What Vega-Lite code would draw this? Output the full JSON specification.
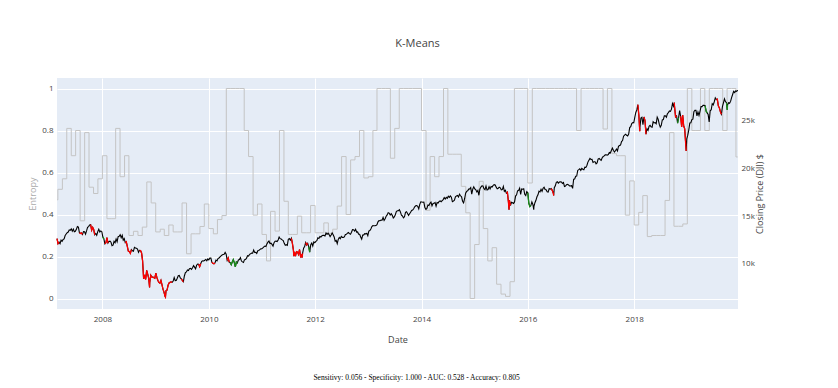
{
"$schema": "https://vega.github.io/schema/vega-lite/v6.json",
"background": "white",
"padding": {"left": 28, "top": 38, "right": 10, "bottom": 6},
"title": {"text": "Sensitivy: 0.056 - Specificity: 1.000 - AUC: 0.528 - Accuracy: 0.805", "orient": "bottom", "anchor": "middle", "font": "Liberation Serif", "fontSize": 7.5, "fontWeight": "normal", "color": "black", "offset": 30, "dx": 20},
"datasets": {
"ent": [
{"d":"2007-02-23","e":0.47},{"d":"2007-03-01","e":0.52},{"d":"2007-04-01","e":0.57},{"d":"2007-05-01","e":0.81},{"d":"2007-06-01","e":0.68},{"d":"2007-07-01","e":0.8},{"d":"2007-08-01","e":0.37},{"d":"2007-09-01","e":0.79},{"d":"2007-10-01","e":0.53},{"d":"2007-11-01","e":0.5},{"d":"2007-12-01","e":0.57},
{"d":"2008-01-01","e":0.68},{"d":"2008-02-01","e":0.38},{"d":"2008-03-01","e":0.38},{"d":"2008-04-01","e":0.81},{"d":"2008-05-01","e":0.58},{"d":"2008-06-01","e":0.68},{"d":"2008-07-01","e":0.3},{"d":"2008-08-01","e":0.32},{"d":"2008-09-01","e":0.3},{"d":"2008-10-01","e":0.34},{"d":"2008-11-01","e":0.555},{"d":"2008-12-01","e":0.455},
{"d":"2009-01-01","e":0.317},{"d":"2009-02-01","e":0.33},{"d":"2009-03-01","e":0.3},{"d":"2009-04-01","e":0.35},{"d":"2009-05-01","e":0.317},{"d":"2009-06-01","e":0.317},{"d":"2009-07-01","e":0.455},{"d":"2009-08-01","e":0.213},{"d":"2009-09-01","e":0.308},{"d":"2009-10-01","e":0.308},{"d":"2009-11-01","e":0.343},{"d":"2009-12-01","e":0.45},
{"d":"2010-01-01","e":0.333},{"d":"2010-02-01","e":0.308},{"d":"2010-03-01","e":0.376},{"d":"2010-04-01","e":0.395},{"d":"2010-05-01","e":1},{"d":"2010-06-01","e":1},{"d":"2010-07-01","e":1},{"d":"2010-08-01","e":1},{"d":"2010-09-01","e":0.8},{"d":"2010-10-01","e":0.676},{"d":"2010-11-01","e":0.397},{"d":"2010-12-01","e":0.45},
{"d":"2011-01-01","e":0.305},{"d":"2011-02-01","e":0.179},{"d":"2011-03-01","e":0.415},{"d":"2011-04-01","e":0.321},{"d":"2011-05-01","e":0.8},{"d":"2011-06-01","e":0.463},{"d":"2011-07-01","e":0.305},{"d":"2011-08-01","e":0.305},{"d":"2011-09-01","e":0.392},{"d":"2011-10-01","e":0.313},{"d":"2011-11-01","e":0.313},{"d":"2011-12-01","e":0.443},
{"d":"2012-01-01","e":0.313},{"d":"2012-02-01","e":0.313},{"d":"2012-03-01","e":0.36},{"d":"2012-04-01","e":0.31},{"d":"2012-05-01","e":0.33},{"d":"2012-06-01","e":0.44},{"d":"2012-07-01","e":0.676},{"d":"2012-08-01","e":0.4},{"d":"2012-09-01","e":0.66},{"d":"2012-10-01","e":0.676},{"d":"2012-11-01","e":0.8},{"d":"2012-12-01","e":0.574},
{"d":"2013-01-01","e":0.58},{"d":"2013-02-01","e":0.8},{"d":"2013-03-01","e":1},{"d":"2013-04-01","e":1},{"d":"2013-05-01","e":1},{"d":"2013-06-01","e":0.668},{"d":"2013-07-01","e":0.81},{"d":"2013-08-01","e":1},{"d":"2013-09-01","e":1},{"d":"2013-10-01","e":1},{"d":"2013-11-01","e":1},{"d":"2013-12-01","e":1},
{"d":"2014-01-01","e":0.8},{"d":"2014-02-01","e":0.42},{"d":"2014-03-01","e":0.676},{"d":"2014-04-01","e":0.58},{"d":"2014-05-01","e":0.676},{"d":"2014-06-01","e":1},{"d":"2014-07-01","e":0.687},{"d":"2014-08-01","e":0.687},{"d":"2014-09-01","e":0.687},{"d":"2014-10-01","e":0.534},{"d":"2014-11-01","e":0.408},{"d":"2014-12-01","e":0},
{"d":"2015-01-01","e":0.257},{"d":"2015-02-01","e":0.558},{"d":"2015-03-01","e":0.333},{"d":"2015-04-01","e":0.179},{"d":"2015-05-01","e":0.242},{"d":"2015-06-01","e":0.068},{"d":"2015-07-01","e":0.021},{"d":"2015-08-01","e":0.01},{"d":"2015-09-01","e":0.08},{"d":"2015-10-01","e":1},{"d":"2015-11-01","e":1},{"d":"2015-12-01","e":1},
{"d":"2016-01-01","e":0.55},{"d":"2016-02-01","e":1},{"d":"2016-03-01","e":1},{"d":"2016-04-01","e":1},{"d":"2016-05-01","e":1},{"d":"2016-06-01","e":1},{"d":"2016-07-01","e":1},{"d":"2016-08-01","e":1},{"d":"2016-09-01","e":1},{"d":"2016-10-01","e":1},{"d":"2016-11-01","e":1},{"d":"2016-12-01","e":0.8},
{"d":"2017-01-01","e":1},{"d":"2017-02-01","e":1},{"d":"2017-03-01","e":1},{"d":"2017-04-01","e":1},{"d":"2017-05-01","e":1},{"d":"2017-06-01","e":0.807},{"d":"2017-07-01","e":1},{"d":"2017-08-01","e":0.69},{"d":"2017-09-01","e":0.68},{"d":"2017-10-01","e":0.68},{"d":"2017-11-01","e":0.397},{"d":"2017-12-01","e":0.56},
{"d":"2018-01-01","e":0.35},{"d":"2018-02-01","e":0.41},{"d":"2018-03-01","e":0.49},{"d":"2018-04-01","e":0.295},{"d":"2018-05-01","e":0.3},{"d":"2018-06-01","e":0.3},{"d":"2018-07-01","e":0.3},{"d":"2018-08-01","e":0.467},{"d":"2018-09-01","e":0.79},{"d":"2018-10-01","e":0.344},{"d":"2018-11-01","e":0.344},{"d":"2018-12-01","e":0.355},
{"d":"2019-01-01","e":1},{"d":"2019-02-01","e":0.8},{"d":"2019-03-01","e":0.8},{"d":"2019-04-01","e":1},{"d":"2019-05-01","e":0.8},{"d":"2019-06-01","e":1},{"d":"2019-07-01","e":1},{"d":"2019-08-01","e":1},{"d":"2019-09-01","e":0.8},{"d":"2019-10-01","e":1},{"d":"2019-11-01","e":1},{"d":"2019-12-01","e":0.674},{"d":"2019-12-13","e":0.674}
],
"px": [
{"d":"2007-02-23","p":12647,"c":"r","s":1},{"d":"2007-03-02","p":12114,"c":"r","s":1},{"d":"2007-03-09","p":12276,"c":"r","s":1},{"d":"2007-03-16","p":12110,"c":"k"},{"d":"2007-03-23","p":12481,"c":"k"},{"d":"2007-03-30","p":12354,"c":"k"},{"d":"2007-04-06","p":12560,"c":"k"},{"d":"2007-04-13","p":12612,"c":"k"},{"d":"2007-04-20","p":12962,"c":"k"},{"d":"2007-04-27","p":13121,"c":"k"},{"d":"2007-05-04","p":13265,"c":"k"},{"d":"2007-05-11","p":13327,"c":"k"},{"d":"2007-05-18","p":13556,"c":"k"},{"d":"2007-05-25","p":13507,"c":"k"},{"d":"2007-06-01","p":13668,"c":"k"},{"d":"2007-06-08","p":13424,"c":"k"},{"d":"2007-06-15","p":13640,"c":"k"},{"d":"2007-06-22","p":13361,"c":"k"},{"d":"2007-06-29","p":13409,"c":"k"},{"d":"2007-07-06","p":13612,"c":"k"},{"d":"2007-07-13","p":13908,"c":"k"},{"d":"2007-07-20","p":13851,"c":"k"},{"d":"2007-07-27","p":13266,"c":"r","s":2},{"d":"2007-08-03","p":13182,"c":"r","s":2},{"d":"2007-08-10","p":13240,"c":"r","s":2},{"d":"2007-08-17","p":13080,"c":"r","s":2},{"d":"2007-08-24","p":13379,"c":"k"},{"d":"2007-08-31","p":13358,"c":"k"},{"d":"2007-09-07","p":13114,"c":"k"},{"d":"2007-09-14","p":13443,"c":"k"},{"d":"2007-09-21","p":13821,"c":"k"},{"d":"2007-09-28","p":13896,"c":"k"},{"d":"2007-10-05","p":14066,"c":"k"},{"d":"2007-10-12","p":14093,"c":"r","s":3},{"d":"2007-10-19","p":13522,"c":"r","s":3},{"d":"2007-10-26","p":13807,"c":"r","s":3},{"d":"2007-11-02","p":13595,"c":"r","s":3},{"d":"2007-11-09","p":13043,"c":"r","s":3},{"d":"2007-11-16","p":13177,"c":"k"},{"d":"2007-11-23","p":12981,"c":"k"},{"d":"2007-11-30","p":13372,"c":"k"},{"d":"2007-12-07","p":13625,"c":"k"},{"d":"2007-12-14","p":13339,"c":"k"},{"d":"2007-12-21","p":13450,"c":"k"},{"d":"2007-12-28","p":13366,"c":"k"},
{"d":"2008-01-04","p":12800,"c":"g","s":4},{"d":"2008-01-11","p":12606,"c":"g","s":4},{"d":"2008-01-18","p":12099,"c":"r","s":5},{"d":"2008-01-25","p":12207,"c":"r","s":5},{"d":"2008-02-01","p":12743,"c":"r","s":5},{"d":"2008-02-08","p":12182,"c":"r","s":5},{"d":"2008-02-15","p":12348,"c":"k"},{"d":"2008-02-22","p":12381,"c":"k"},{"d":"2008-02-29","p":12266,"c":"k"},{"d":"2008-03-07","p":11894,"c":"k"},{"d":"2008-03-14","p":11951,"c":"k"},{"d":"2008-03-21","p":12361,"c":"k"},{"d":"2008-03-28","p":12216,"c":"k"},{"d":"2008-04-04","p":12609,"c":"k"},{"d":"2008-04-11","p":12325,"c":"k"},{"d":"2008-04-18","p":12849,"c":"k"},{"d":"2008-04-25","p":12891,"c":"k"},{"d":"2008-05-02","p":13058,"c":"k"},{"d":"2008-05-09","p":12745,"c":"k"},{"d":"2008-05-16","p":12986,"c":"k"},{"d":"2008-05-23","p":12480,"c":"k"},{"d":"2008-05-30","p":12638,"c":"k"},{"d":"2008-06-06","p":12210,"c":"r","s":6},{"d":"2008-06-13","p":12307,"c":"r","s":6},{"d":"2008-06-20","p":11843,"c":"r","s":6},{"d":"2008-06-27","p":11346,"c":"r","s":6},{"d":"2008-07-04","p":11289,"c":"r","s":6},{"d":"2008-07-11","p":11100,"c":"r","s":6},{"d":"2008-07-18","p":11497,"c":"r","s":6},{"d":"2008-07-25","p":11370,"c":"k"},{"d":"2008-08-01","p":11327,"c":"k"},{"d":"2008-08-08","p":11734,"c":"k"},{"d":"2008-08-15","p":11659,"c":"k"},{"d":"2008-08-22","p":11628,"c":"k"},{"d":"2008-08-29","p":11543,"c":"k"},{"d":"2008-09-05","p":11220,"c":"k"},{"d":"2008-09-12","p":11422,"c":"r","s":7},{"d":"2008-09-19","p":11388,"c":"r","s":7},{"d":"2008-09-26","p":11143,"c":"r","s":7},{"d":"2008-10-03","p":10325,"c":"r","s":7},{"d":"2008-10-10","p":8451,"c":"r","s":7},{"d":"2008-10-17","p":8852,"c":"r","s":7},{"d":"2008-10-24","p":8378,"c":"r","s":7},{"d":"2008-10-31","p":9325,"c":"r","s":7},{"d":"2008-11-07","p":8943,"c":"r","s":7},{"d":"2008-11-14","p":8497,"c":"r","s":7},{"d":"2008-11-20","p":7552,"c":"r","s":7},{"d":"2008-11-21","p":8046,"c":"r","s":7},{"d":"2008-11-28","p":8829,"c":"r","s":7},{"d":"2008-12-05","p":8635,"c":"r","s":7},{"d":"2008-12-12","p":8629,"c":"r","s":7},{"d":"2008-12-19","p":8579,"c":"r","s":7},{"d":"2008-12-26","p":8515,"c":"r","s":7},
{"d":"2009-01-02","p":9034,"c":"r","s":7},{"d":"2009-01-09","p":8599,"c":"r","s":7},{"d":"2009-01-16","p":8281,"c":"r","s":7},{"d":"2009-01-23","p":8077,"c":"r","s":7},{"d":"2009-01-30","p":8001,"c":"r","s":7},{"d":"2009-02-06","p":8280,"c":"r","s":7},{"d":"2009-02-13","p":7850,"c":"r","s":7},{"d":"2009-02-20","p":7366,"c":"r","s":7},{"d":"2009-02-27","p":7062,"c":"r","s":7},{"d":"2009-03-06","p":6627,"c":"r","s":7},{"d":"2009-03-09","p":6547,"c":"r","s":7},{"d":"2009-03-13","p":7224,"c":"r","s":7},{"d":"2009-03-20","p":7279,"c":"r","s":7},{"d":"2009-03-27","p":7776,"c":"r","s":7},{"d":"2009-04-03","p":8018,"c":"r","s":7},{"d":"2009-04-10","p":8083,"c":"r","s":7},{"d":"2009-04-17","p":8131,"c":"r","s":7},{"d":"2009-04-24","p":8076,"c":"r","s":7},{"d":"2009-05-01","p":8212,"c":"k"},{"d":"2009-05-08","p":8575,"c":"k"},{"d":"2009-05-15","p":8268,"c":"k"},{"d":"2009-05-22","p":8277,"c":"k"},{"d":"2009-05-29","p":8500,"c":"k"},{"d":"2009-06-05","p":8764,"c":"k"},{"d":"2009-06-12","p":8799,"c":"k"},{"d":"2009-06-19","p":8539,"c":"k"},{"d":"2009-06-26","p":8438,"c":"r","s":8},{"d":"2009-07-03","p":8280,"c":"r","s":8},{"d":"2009-07-10","p":8146,"c":"r","s":8},{"d":"2009-07-17","p":8743,"c":"k"},{"d":"2009-07-24","p":9093,"c":"k"},{"d":"2009-07-31","p":9171,"c":"k"},{"d":"2009-08-07","p":9370,"c":"k"},{"d":"2009-08-14","p":9321,"c":"k"},{"d":"2009-08-21","p":9505,"c":"k"},{"d":"2009-08-28","p":9544,"c":"k"},{"d":"2009-09-04","p":9441,"c":"k"},{"d":"2009-09-11","p":9605,"c":"k"},{"d":"2009-09-18","p":9820,"c":"k"},{"d":"2009-09-25","p":9665,"c":"k"},{"d":"2009-10-02","p":9487,"c":"k"},{"d":"2009-10-09","p":9864,"c":"k"},{"d":"2009-10-16","p":9995,"c":"k"},{"d":"2009-10-23","p":9972,"c":"r","s":9},{"d":"2009-10-30","p":9712,"c":"r","s":9},{"d":"2009-11-06","p":10023,"c":"r","s":9},{"d":"2009-11-13","p":10270,"c":"k"},{"d":"2009-11-20","p":10318,"c":"k"},{"d":"2009-11-27","p":10309,"c":"k"},{"d":"2009-12-04","p":10388,"c":"k"},{"d":"2009-12-11","p":10471,"c":"k"},{"d":"2009-12-18","p":10328,"c":"k"},{"d":"2009-12-25","p":10520,"c":"k"},
{"d":"2010-01-01","p":10428,"c":"k"},{"d":"2010-01-08","p":10618,"c":"k"},{"d":"2010-01-15","p":10610,"c":"k"},{"d":"2010-01-22","p":10172,"c":"r","s":10},{"d":"2010-01-29","p":10067,"c":"r","s":10},{"d":"2010-02-05","p":10012,"c":"r","s":10},{"d":"2010-02-12","p":10099,"c":"r","s":10},{"d":"2010-02-19","p":10402,"c":"k"},{"d":"2010-02-26","p":10325,"c":"k"},{"d":"2010-03-05","p":10566,"c":"k"},{"d":"2010-03-12","p":10625,"c":"k"},{"d":"2010-03-19","p":10742,"c":"k"},{"d":"2010-03-26","p":10850,"c":"k"},{"d":"2010-04-02","p":10927,"c":"k"},{"d":"2010-04-09","p":10997,"c":"k"},{"d":"2010-04-16","p":11019,"c":"k"},{"d":"2010-04-23","p":11204,"c":"k"},{"d":"2010-04-30","p":11009,"c":"k"},{"d":"2010-05-07","p":10380,"c":"r","s":11},{"d":"2010-05-14","p":10620,"c":"r","s":11},{"d":"2010-05-21","p":10193,"c":"r","s":11},{"d":"2010-05-28","p":10137,"c":"g","s":12},{"d":"2010-06-04","p":9931,"c":"g","s":12},{"d":"2010-06-11","p":10211,"c":"g","s":12},{"d":"2010-06-18","p":10450,"c":"g","s":12},{"d":"2010-06-25","p":10144,"c":"g","s":12},{"d":"2010-07-02","p":9686,"c":"g","s":12},{"d":"2010-07-09","p":10198,"c":"g","s":12},{"d":"2010-07-16","p":10098,"c":"g","s":12},{"d":"2010-07-23","p":10424,"c":"k"},{"d":"2010-07-30","p":10466,"c":"k"},{"d":"2010-08-06","p":10653,"c":"k"},{"d":"2010-08-13","p":10303,"c":"k"},{"d":"2010-08-20","p":10213,"c":"k"},{"d":"2010-08-27","p":10150,"c":"k"},{"d":"2010-09-03","p":10447,"c":"k"},{"d":"2010-09-10","p":10462,"c":"k"},{"d":"2010-09-17","p":10607,"c":"k"},{"d":"2010-09-24","p":10860,"c":"k"},{"d":"2010-10-01","p":10829,"c":"k"},{"d":"2010-10-08","p":11006,"c":"k"},{"d":"2010-10-15","p":11062,"c":"k"},{"d":"2010-10-22","p":11132,"c":"k"},{"d":"2010-10-29","p":11118,"c":"k"},{"d":"2010-11-05","p":11444,"c":"k"},{"d":"2010-11-12","p":11192,"c":"k"},{"d":"2010-11-19","p":11203,"c":"k"},{"d":"2010-11-26","p":11092,"c":"k"},{"d":"2010-12-03","p":11382,"c":"k"},{"d":"2010-12-10","p":11410,"c":"k"},{"d":"2010-12-17","p":11491,"c":"k"},{"d":"2010-12-24","p":11573,"c":"k"},{"d":"2010-12-31","p":11578,"c":"k"},
{"d":"2011-01-07","p":11674,"c":"k"},{"d":"2011-01-14","p":11787,"c":"k"},{"d":"2011-01-21","p":11871,"c":"k"},{"d":"2011-01-28","p":11823,"c":"k"},{"d":"2011-02-04","p":12092,"c":"k"},{"d":"2011-02-11","p":12273,"c":"k"},{"d":"2011-02-18","p":12391,"c":"k"},{"d":"2011-02-25","p":12130,"c":"k"},{"d":"2011-03-04","p":12169,"c":"k"},{"d":"2011-03-11","p":12044,"c":"k"},{"d":"2011-03-18","p":11858,"c":"k"},{"d":"2011-03-25","p":12220,"c":"k"},{"d":"2011-04-01","p":12376,"c":"k"},{"d":"2011-04-08","p":12380,"c":"k"},{"d":"2011-04-15","p":12342,"c":"k"},{"d":"2011-04-22","p":12505,"c":"k"},{"d":"2011-04-29","p":12810,"c":"k"},{"d":"2011-05-06","p":12638,"c":"k"},{"d":"2011-05-13","p":12596,"c":"k"},{"d":"2011-05-20","p":12512,"c":"k"},{"d":"2011-05-27","p":12441,"c":"k"},{"d":"2011-06-03","p":12151,"c":"k"},{"d":"2011-06-10","p":11952,"c":"k"},{"d":"2011-06-17","p":12004,"c":"k"},{"d":"2011-06-24","p":11934,"c":"k"},{"d":"2011-07-01","p":12582,"c":"k"},{"d":"2011-07-08","p":12657,"c":"k"},{"d":"2011-07-15","p":12479,"c":"k"},{"d":"2011-07-22","p":12681,"c":"r","s":13},{"d":"2011-07-29","p":12143,"c":"r","s":13},{"d":"2011-08-05","p":11444,"c":"r","s":13},{"d":"2011-08-08","p":10810,"c":"r","s":13},{"d":"2011-08-12","p":11269,"c":"r","s":13},{"d":"2011-08-19","p":10817,"c":"r","s":13},{"d":"2011-08-26","p":11284,"c":"r","s":13},{"d":"2011-09-02","p":11240,"c":"r","s":13},{"d":"2011-09-09","p":10992,"c":"r","s":13},{"d":"2011-09-16","p":11509,"c":"r","s":13},{"d":"2011-09-23","p":10771,"c":"r","s":13},{"d":"2011-09-30","p":10913,"c":"r","s":13},{"d":"2011-10-03","p":10655,"c":"r","s":13},{"d":"2011-10-07","p":11103,"c":"r","s":13},{"d":"2011-10-14","p":11644,"c":"k"},{"d":"2011-10-21","p":11808,"c":"k"},{"d":"2011-10-28","p":12231,"c":"r","s":14},{"d":"2011-11-04","p":11983,"c":"r","s":14},{"d":"2011-11-11","p":12153,"c":"r","s":14},{"d":"2011-11-18","p":11796,"c":"g","s":15},{"d":"2011-11-25","p":11231,"c":"g","s":15},{"d":"2011-12-02","p":12019,"c":"k"},{"d":"2011-12-09","p":12184,"c":"k"},{"d":"2011-12-16","p":11866,"c":"k"},{"d":"2011-12-23","p":12294,"c":"k"},{"d":"2011-12-30","p":12218,"c":"k"},
{"d":"2012-01-06","p":12360,"c":"k"},{"d":"2012-01-13","p":12422,"c":"k"},{"d":"2012-01-20","p":12720,"c":"k"},{"d":"2012-01-27","p":12660,"c":"k"},{"d":"2012-02-03","p":12862,"c":"k"},{"d":"2012-02-10","p":12801,"c":"k"},{"d":"2012-02-17","p":12950,"c":"k"},{"d":"2012-02-24","p":12983,"c":"k"},{"d":"2012-03-02","p":12977,"c":"k"},{"d":"2012-03-09","p":12922,"c":"k"},{"d":"2012-03-16","p":13233,"c":"k"},{"d":"2012-03-23","p":13081,"c":"k"},{"d":"2012-03-30","p":13212,"c":"k"},{"d":"2012-04-06","p":13060,"c":"k"},{"d":"2012-04-13","p":12850,"c":"k"},{"d":"2012-04-20","p":13029,"c":"k"},{"d":"2012-04-27","p":13228,"c":"k"},{"d":"2012-05-04","p":13038,"c":"k"},{"d":"2012-05-11","p":12821,"c":"k"},{"d":"2012-05-18","p":12369,"c":"k"},{"d":"2012-05-25","p":12455,"c":"k"},{"d":"2012-06-01","p":12119,"c":"k"},{"d":"2012-06-08","p":12554,"c":"k"},{"d":"2012-06-15","p":12767,"c":"k"},{"d":"2012-06-22","p":12640,"c":"k"},{"d":"2012-06-29","p":12880,"c":"k"},{"d":"2012-07-06","p":12772,"c":"k"},{"d":"2012-07-13","p":12777,"c":"k"},{"d":"2012-07-20","p":12823,"c":"k"},{"d":"2012-07-27","p":13075,"c":"k"},{"d":"2012-08-03","p":13096,"c":"k"},{"d":"2012-08-10","p":13207,"c":"k"},{"d":"2012-08-17","p":13275,"c":"k"},{"d":"2012-08-24","p":13157,"c":"k"},{"d":"2012-08-31","p":13090,"c":"k"},{"d":"2012-09-07","p":13306,"c":"k"},{"d":"2012-09-14","p":13593,"c":"k"},{"d":"2012-09-21","p":13579,"c":"k"},{"d":"2012-09-28","p":13437,"c":"k"},{"d":"2012-10-05","p":13610,"c":"k"},{"d":"2012-10-12","p":13328,"c":"k"},{"d":"2012-10-19","p":13343,"c":"k"},{"d":"2012-10-26","p":13107,"c":"k"},{"d":"2012-11-02","p":13093,"c":"k"},{"d":"2012-11-09","p":12815,"c":"k"},{"d":"2012-11-16","p":12588,"c":"k"},{"d":"2012-11-23","p":13009,"c":"k"},{"d":"2012-11-30","p":13025,"c":"k"},{"d":"2012-12-07","p":13155,"c":"k"},{"d":"2012-12-14","p":13135,"c":"k"},{"d":"2012-12-21","p":13190,"c":"k"},{"d":"2012-12-28","p":12938,"c":"k"},
{"d":"2013-01-04","p":13435,"c":"k"},{"d":"2013-01-11","p":13488,"c":"k"},{"d":"2013-01-18","p":13650,"c":"k"},{"d":"2013-01-25","p":13896,"c":"k"},{"d":"2013-02-01","p":14009,"c":"k"},{"d":"2013-02-08","p":13993,"c":"k"},{"d":"2013-02-15","p":13982,"c":"k"},{"d":"2013-02-22","p":14001,"c":"k"},{"d":"2013-03-01","p":14090,"c":"k"},{"d":"2013-03-08","p":14397,"c":"k"},{"d":"2013-03-15","p":14515,"c":"k"},{"d":"2013-03-22","p":14512,"c":"k"},{"d":"2013-03-29","p":14579,"c":"k"},{"d":"2013-04-05","p":14565,"c":"k"},{"d":"2013-04-12","p":14865,"c":"k"},{"d":"2013-04-19","p":14547,"c":"k"},{"d":"2013-04-26","p":14712,"c":"k"},{"d":"2013-05-03","p":14974,"c":"k"},{"d":"2013-05-10","p":15118,"c":"k"},{"d":"2013-05-17","p":15354,"c":"k"},{"d":"2013-05-24","p":15303,"c":"k"},{"d":"2013-05-31","p":15116,"c":"k"},{"d":"2013-06-07","p":15248,"c":"k"},{"d":"2013-06-14","p":15070,"c":"k"},{"d":"2013-06-21","p":14800,"c":"k"},{"d":"2013-06-28","p":14910,"c":"k"},{"d":"2013-07-05","p":15136,"c":"k"},{"d":"2013-07-12","p":15464,"c":"k"},{"d":"2013-07-19","p":15544,"c":"k"},{"d":"2013-07-26","p":15559,"c":"k"},{"d":"2013-08-02","p":15658,"c":"k"},{"d":"2013-08-09","p":15425,"c":"k"},{"d":"2013-08-16","p":15081,"c":"k"},{"d":"2013-08-23","p":15010,"c":"k"},{"d":"2013-08-30","p":14810,"c":"k"},{"d":"2013-09-06","p":14922,"c":"k"},{"d":"2013-09-13","p":15376,"c":"k"},{"d":"2013-09-20","p":15452,"c":"k"},{"d":"2013-09-27","p":15258,"c":"k"},{"d":"2013-10-04","p":15073,"c":"k"},{"d":"2013-10-11","p":15237,"c":"k"},{"d":"2013-10-18","p":15400,"c":"k"},{"d":"2013-10-25","p":15570,"c":"k"},{"d":"2013-11-01","p":15615,"c":"k"},{"d":"2013-11-08","p":15762,"c":"k"},{"d":"2013-11-15","p":15962,"c":"k"},{"d":"2013-11-22","p":16065,"c":"k"},{"d":"2013-11-29","p":16086,"c":"k"},{"d":"2013-12-06","p":16020,"c":"k"},{"d":"2013-12-13","p":15755,"c":"k"},{"d":"2013-12-20","p":16221,"c":"k"},{"d":"2013-12-27","p":16479,"c":"k"},
{"d":"2014-01-03","p":16470,"c":"k"},{"d":"2014-01-10","p":16437,"c":"k"},{"d":"2014-01-17","p":16459,"c":"k"},{"d":"2014-01-24","p":15880,"c":"k"},{"d":"2014-01-31","p":15699,"c":"k"},{"d":"2014-02-07","p":15794,"c":"k"},{"d":"2014-02-14","p":16154,"c":"k"},{"d":"2014-02-21","p":16104,"c":"k"},{"d":"2014-02-28","p":16322,"c":"k"},{"d":"2014-03-07","p":16453,"c":"k"},{"d":"2014-03-14","p":16066,"c":"k"},{"d":"2014-03-21","p":16303,"c":"k"},{"d":"2014-03-28","p":16324,"c":"k"},{"d":"2014-04-04","p":16413,"c":"k"},{"d":"2014-04-11","p":16027,"c":"k"},{"d":"2014-04-18","p":16409,"c":"k"},{"d":"2014-04-25","p":16361,"c":"k"},{"d":"2014-05-02","p":16513,"c":"k"},{"d":"2014-05-09","p":16584,"c":"k"},{"d":"2014-05-16","p":16492,"c":"k"},{"d":"2014-05-23","p":16606,"c":"k"},{"d":"2014-05-30","p":16717,"c":"k"},{"d":"2014-06-06","p":16925,"c":"k"},{"d":"2014-06-13","p":16776,"c":"k"},{"d":"2014-06-20","p":16948,"c":"k"},{"d":"2014-06-27","p":16851,"c":"k"},{"d":"2014-07-04","p":17068,"c":"k"},{"d":"2014-07-11","p":16944,"c":"k"},{"d":"2014-07-18","p":17100,"c":"k"},{"d":"2014-07-25","p":16961,"c":"k"},{"d":"2014-08-01","p":16493,"c":"k"},{"d":"2014-08-08","p":16554,"c":"k"},{"d":"2014-08-15","p":16663,"c":"k"},{"d":"2014-08-22","p":17001,"c":"k"},{"d":"2014-08-29","p":17098,"c":"k"},{"d":"2014-09-05","p":17138,"c":"k"},{"d":"2014-09-12","p":16988,"c":"k"},{"d":"2014-09-19","p":17280,"c":"k"},{"d":"2014-09-26","p":17113,"c":"k"},{"d":"2014-10-03","p":17010,"c":"k"},{"d":"2014-10-10","p":16544,"c":"k"},{"d":"2014-10-17","p":16380,"c":"k"},{"d":"2014-10-24","p":16805,"c":"k"},{"d":"2014-10-31","p":17391,"c":"k"},{"d":"2014-11-07","p":17574,"c":"k"},{"d":"2014-11-14","p":17634,"c":"k"},{"d":"2014-11-21","p":17810,"c":"k"},{"d":"2014-11-28","p":17828,"c":"k"},{"d":"2014-12-05","p":17959,"c":"k"},{"d":"2014-12-12","p":17281,"c":"k"},{"d":"2014-12-19","p":17805,"c":"k"},{"d":"2014-12-26","p":18054,"c":"k"},
{"d":"2015-01-02","p":17833,"c":"k"},{"d":"2015-01-09","p":17737,"c":"k"},{"d":"2015-01-16","p":17512,"c":"k"},{"d":"2015-01-23","p":17673,"c":"k"},{"d":"2015-01-30","p":17165,"c":"k"},{"d":"2015-02-06","p":17824,"c":"k"},{"d":"2015-02-13","p":18019,"c":"k"},{"d":"2015-02-20","p":18141,"c":"k"},{"d":"2015-02-27","p":18133,"c":"k"},{"d":"2015-03-06","p":17857,"c":"k"},{"d":"2015-03-13","p":17750,"c":"k"},{"d":"2015-03-20","p":18128,"c":"k"},{"d":"2015-03-27","p":17713,"c":"k"},{"d":"2015-04-03","p":17763,"c":"k"},{"d":"2015-04-10","p":18058,"c":"k"},{"d":"2015-04-17","p":17827,"c":"k"},{"d":"2015-04-24","p":18080,"c":"k"},{"d":"2015-05-01","p":18025,"c":"k"},{"d":"2015-05-08","p":18191,"c":"k"},{"d":"2015-05-15","p":18273,"c":"k"},{"d":"2015-05-22","p":18232,"c":"k"},{"d":"2015-05-29","p":18011,"c":"k"},{"d":"2015-06-05","p":17849,"c":"k"},{"d":"2015-06-12","p":17899,"c":"k"},{"d":"2015-06-19","p":18016,"c":"k"},{"d":"2015-06-26","p":17947,"c":"k"},{"d":"2015-07-03","p":17730,"c":"k"},{"d":"2015-07-10","p":17760,"c":"k"},{"d":"2015-07-17","p":18086,"c":"k"},{"d":"2015-07-24","p":17568,"c":"k"},{"d":"2015-07-31","p":17690,"c":"k"},{"d":"2015-08-07","p":17373,"c":"r","s":16},{"d":"2015-08-14","p":17477,"c":"r","s":16},{"d":"2015-08-21","p":16460,"c":"r","s":16},{"d":"2015-08-25","p":15666,"c":"r","s":16},{"d":"2015-08-28","p":16643,"c":"r","s":16},{"d":"2015-09-04","p":16102,"c":"r","s":16},{"d":"2015-09-11","p":16433,"c":"k"},{"d":"2015-09-18","p":16385,"c":"k"},{"d":"2015-09-25","p":16315,"c":"k"},{"d":"2015-10-02","p":16472,"c":"k"},{"d":"2015-10-09","p":17084,"c":"k"},{"d":"2015-10-16","p":17216,"c":"k"},{"d":"2015-10-23","p":17647,"c":"k"},{"d":"2015-10-30","p":17664,"c":"k"},{"d":"2015-11-06","p":17910,"c":"k"},{"d":"2015-11-13","p":17245,"c":"k"},{"d":"2015-11-20","p":17824,"c":"k"},{"d":"2015-11-27","p":17798,"c":"k"},{"d":"2015-12-04","p":17848,"c":"k"},{"d":"2015-12-11","p":17265,"c":"k"},{"d":"2015-12-18","p":17128,"c":"k"},{"d":"2015-12-25","p":17552,"c":"k"},
{"d":"2016-01-01","p":17425,"c":"g","s":17},{"d":"2016-01-08","p":16346,"c":"g","s":17},{"d":"2016-01-15","p":15988,"c":"g","s":17},{"d":"2016-01-22","p":16094,"c":"g","s":17},{"d":"2016-01-29","p":16466,"c":"k"},{"d":"2016-02-05","p":16205,"c":"k"},{"d":"2016-02-11","p":15660,"c":"k"},{"d":"2016-02-12","p":15974,"c":"k"},{"d":"2016-02-19","p":16392,"c":"k"},{"d":"2016-02-26","p":16640,"c":"k"},{"d":"2016-03-04","p":17007,"c":"k"},{"d":"2016-03-11","p":17213,"c":"k"},{"d":"2016-03-18","p":17602,"c":"k"},{"d":"2016-03-25","p":17516,"c":"k"},{"d":"2016-04-01","p":17793,"c":"k"},{"d":"2016-04-08","p":17577,"c":"k"},{"d":"2016-04-15","p":17898,"c":"k"},{"d":"2016-04-22","p":18004,"c":"k"},{"d":"2016-04-29","p":17774,"c":"k"},{"d":"2016-05-06","p":17741,"c":"k"},{"d":"2016-05-13","p":17535,"c":"k"},{"d":"2016-05-20","p":17501,"c":"k"},{"d":"2016-05-27","p":17873,"c":"k"},{"d":"2016-06-03","p":17807,"c":"k"},{"d":"2016-06-10","p":17865,"c":"r","s":18},{"d":"2016-06-17","p":17675,"c":"r","s":18},{"d":"2016-06-24","p":17400,"c":"r","s":18},{"d":"2016-06-27","p":17140,"c":"r","s":18},{"d":"2016-07-01","p":17949,"c":"k"},{"d":"2016-07-08","p":18147,"c":"k"},{"d":"2016-07-15","p":18517,"c":"k"},{"d":"2016-07-22","p":18571,"c":"k"},{"d":"2016-07-29","p":18432,"c":"k"},{"d":"2016-08-05","p":18544,"c":"k"},{"d":"2016-08-12","p":18576,"c":"k"},{"d":"2016-08-19","p":18553,"c":"k"},{"d":"2016-08-26","p":18395,"c":"k"},{"d":"2016-09-02","p":18492,"c":"k"},{"d":"2016-09-09","p":18085,"c":"k"},{"d":"2016-09-16","p":18124,"c":"k"},{"d":"2016-09-23","p":18262,"c":"k"},{"d":"2016-09-30","p":18308,"c":"k"},{"d":"2016-10-07","p":18240,"c":"k"},{"d":"2016-10-14","p":18138,"c":"k"},{"d":"2016-10-21","p":18146,"c":"k"},{"d":"2016-10-28","p":18161,"c":"k"},{"d":"2016-11-04","p":17888,"c":"k"},{"d":"2016-11-11","p":18848,"c":"k"},{"d":"2016-11-18","p":18868,"c":"k"},{"d":"2016-11-25","p":19153,"c":"k"},{"d":"2016-12-02","p":19171,"c":"k"},{"d":"2016-12-09","p":19757,"c":"k"},{"d":"2016-12-16","p":19843,"c":"k"},{"d":"2016-12-23","p":19934,"c":"k"},{"d":"2016-12-30","p":19763,"c":"k"},
{"d":"2017-01-06","p":19964,"c":"k"},{"d":"2017-01-13","p":19886,"c":"k"},{"d":"2017-01-20","p":19827,"c":"k"},{"d":"2017-01-27","p":20094,"c":"k"},{"d":"2017-02-03","p":20071,"c":"k"},{"d":"2017-02-10","p":20269,"c":"k"},{"d":"2017-02-17","p":20625,"c":"k"},{"d":"2017-02-24","p":20822,"c":"k"},{"d":"2017-03-03","p":21006,"c":"k"},{"d":"2017-03-10","p":20903,"c":"k"},{"d":"2017-03-17","p":20915,"c":"k"},{"d":"2017-03-24","p":20597,"c":"k"},{"d":"2017-03-31","p":20663,"c":"k"},{"d":"2017-04-07","p":20656,"c":"k"},{"d":"2017-04-14","p":20453,"c":"k"},{"d":"2017-04-21","p":20548,"c":"k"},{"d":"2017-04-28","p":20941,"c":"k"},{"d":"2017-05-05","p":21007,"c":"k"},{"d":"2017-05-12","p":20897,"c":"k"},{"d":"2017-05-19","p":20805,"c":"k"},{"d":"2017-05-26","p":21080,"c":"k"},{"d":"2017-06-02","p":21206,"c":"k"},{"d":"2017-06-09","p":21272,"c":"k"},{"d":"2017-06-16","p":21384,"c":"k"},{"d":"2017-06-23","p":21395,"c":"k"},{"d":"2017-06-30","p":21350,"c":"k"},{"d":"2017-07-07","p":21414,"c":"k"},{"d":"2017-07-14","p":21638,"c":"k"},{"d":"2017-07-21","p":21580,"c":"k"},{"d":"2017-07-28","p":21830,"c":"k"},{"d":"2017-08-04","p":22092,"c":"k"},{"d":"2017-08-11","p":21858,"c":"k"},{"d":"2017-08-18","p":21675,"c":"k"},{"d":"2017-08-25","p":21814,"c":"k"},{"d":"2017-09-01","p":21988,"c":"k"},{"d":"2017-09-08","p":21798,"c":"k"},{"d":"2017-09-15","p":22268,"c":"k"},{"d":"2017-09-22","p":22350,"c":"k"},{"d":"2017-09-29","p":22405,"c":"k"},{"d":"2017-10-06","p":22773,"c":"k"},{"d":"2017-10-13","p":22871,"c":"k"},{"d":"2017-10-20","p":23329,"c":"k"},{"d":"2017-10-27","p":23434,"c":"k"},{"d":"2017-11-03","p":23539,"c":"k"},{"d":"2017-11-10","p":23422,"c":"k"},{"d":"2017-11-17","p":23358,"c":"k"},{"d":"2017-11-24","p":23558,"c":"k"},{"d":"2017-12-01","p":24231,"c":"k"},{"d":"2017-12-08","p":24329,"c":"k"},{"d":"2017-12-15","p":24651,"c":"k"},{"d":"2017-12-22","p":24754,"c":"k"},{"d":"2017-12-29","p":24719,"c":"k"},
{"d":"2018-01-05","p":25296,"c":"k"},{"d":"2018-01-12","p":25803,"c":"k"},{"d":"2018-01-19","p":26072,"c":"k"},{"d":"2018-01-26","p":26616,"c":"r","s":19},{"d":"2018-02-02","p":25521,"c":"r","s":19},{"d":"2018-02-08","p":23860,"c":"r","s":19},{"d":"2018-02-09","p":24190,"c":"r","s":19},{"d":"2018-02-16","p":25219,"c":"k"},{"d":"2018-02-23","p":25310,"c":"k"},{"d":"2018-03-02","p":24538,"c":"k"},{"d":"2018-03-09","p":25336,"c":"r","s":20},{"d":"2018-03-16","p":24946,"c":"r","s":20},{"d":"2018-03-23","p":23533,"c":"r","s":20},{"d":"2018-03-30","p":24103,"c":"k"},{"d":"2018-04-06","p":23933,"c":"k"},{"d":"2018-04-13","p":24360,"c":"k"},{"d":"2018-04-20","p":24463,"c":"k"},{"d":"2018-04-27","p":24311,"c":"k"},{"d":"2018-05-04","p":24263,"c":"k"},{"d":"2018-05-11","p":24831,"c":"k"},{"d":"2018-05-18","p":24715,"c":"k"},{"d":"2018-05-25","p":24753,"c":"k"},{"d":"2018-06-01","p":24635,"c":"k"},{"d":"2018-06-08","p":25317,"c":"k"},{"d":"2018-06-15","p":25090,"c":"k"},{"d":"2018-06-22","p":24581,"c":"k"},{"d":"2018-06-29","p":24271,"c":"k"},{"d":"2018-07-06","p":24456,"c":"k"},{"d":"2018-07-13","p":25019,"c":"k"},{"d":"2018-07-20","p":25058,"c":"k"},{"d":"2018-07-27","p":25451,"c":"k"},{"d":"2018-08-03","p":25463,"c":"k"},{"d":"2018-08-10","p":25313,"c":"k"},{"d":"2018-08-17","p":25669,"c":"k"},{"d":"2018-08-24","p":25790,"c":"k"},{"d":"2018-08-31","p":25965,"c":"k"},{"d":"2018-09-07","p":25917,"c":"k"},{"d":"2018-09-14","p":26155,"c":"k"},{"d":"2018-09-21","p":26744,"c":"k"},{"d":"2018-09-28","p":26458,"c":"k"},{"d":"2018-10-03","p":26828,"c":"r","s":21},{"d":"2018-10-05","p":26447,"c":"r","s":21},{"d":"2018-10-12","p":25340,"c":"r","s":21},{"d":"2018-10-19","p":25444,"c":"r","s":21},{"d":"2018-10-26","p":24688,"c":"g","s":22},{"d":"2018-11-02","p":25271,"c":"g","s":22},{"d":"2018-11-09","p":25989,"c":"k"},{"d":"2018-11-16","p":25413,"c":"r","s":23},{"d":"2018-11-23","p":24286,"c":"r","s":23},{"d":"2018-11-30","p":25538,"c":"r","s":23},{"d":"2018-12-07","p":24389,"c":"r","s":23},{"d":"2018-12-14","p":24101,"c":"r","s":23},{"d":"2018-12-21","p":22445,"c":"r","s":23},{"d":"2018-12-24","p":21792,"c":"r","s":23},{"d":"2018-12-28","p":23062,"c":"k"},
{"d":"2019-01-04","p":23433,"c":"k"},{"d":"2019-01-11","p":23996,"c":"k"},{"d":"2019-01-18","p":24706,"c":"k"},{"d":"2019-01-25","p":24737,"c":"k"},{"d":"2019-02-01","p":25064,"c":"k"},{"d":"2019-02-08","p":25106,"c":"k"},{"d":"2019-02-15","p":25883,"c":"k"},{"d":"2019-02-22","p":26031,"c":"k"},{"d":"2019-03-01","p":26026,"c":"k"},{"d":"2019-03-08","p":25450,"c":"k"},{"d":"2019-03-15","p":25849,"c":"k"},{"d":"2019-03-22","p":25502,"c":"k"},{"d":"2019-03-29","p":25929,"c":"k"},{"d":"2019-04-05","p":26425,"c":"k"},{"d":"2019-04-12","p":26412,"c":"k"},{"d":"2019-04-19","p":26559,"c":"k"},{"d":"2019-04-26","p":26543,"c":"k"},{"d":"2019-05-03","p":26505,"c":"g","s":24},{"d":"2019-05-10","p":25942,"c":"g","s":24},{"d":"2019-05-17","p":25764,"c":"g","s":24},{"d":"2019-05-24","p":25586,"c":"k"},{"d":"2019-05-31","p":24815,"c":"k"},{"d":"2019-06-07","p":25984,"c":"k"},{"d":"2019-06-14","p":26090,"c":"k"},{"d":"2019-06-21","p":26719,"c":"k"},{"d":"2019-06-28","p":26600,"c":"k"},{"d":"2019-07-05","p":26922,"c":"k"},{"d":"2019-07-12","p":27332,"c":"k"},{"d":"2019-07-19","p":27154,"c":"r","s":25},{"d":"2019-07-26","p":27192,"c":"r","s":25},{"d":"2019-08-02","p":26485,"c":"r","s":25},{"d":"2019-08-09","p":26287,"c":"r","s":25},{"d":"2019-08-16","p":25886,"c":"r","s":25},{"d":"2019-08-23","p":25629,"c":"r","s":25},{"d":"2019-08-30","p":26403,"c":"k"},{"d":"2019-09-06","p":26797,"c":"k"},{"d":"2019-09-13","p":27220,"c":"k"},{"d":"2019-09-20","p":26935,"c":"k"},{"d":"2019-09-27","p":26820,"c":"g","s":26},{"d":"2019-10-02","p":26078,"c":"g","s":26},{"d":"2019-10-04","p":26573,"c":"g","s":26},{"d":"2019-10-11","p":26817,"c":"k"},{"d":"2019-10-18","p":26770,"c":"k"},{"d":"2019-10-25","p":26958,"c":"k"},{"d":"2019-11-01","p":27347,"c":"k"},{"d":"2019-11-08","p":27681,"c":"k"},{"d":"2019-11-15","p":28005,"c":"k"},{"d":"2019-11-22","p":27876,"c":"k"},{"d":"2019-11-29","p":28051,"c":"k"},{"d":"2019-12-06","p":28015,"c":"k"},{"d":"2019-12-13","p":28135,"c":"k"}
]
},
"vconcat": [
{
"width": 681,
"height": 231,
"title": {"text": "K-Means", "font": "Open Sans", "fontSize": 11, "fontWeight": "normal", "color": "#444", "offset": 29, "dx": 20},
"encoding": {
"x": {"field": "d", "type": "temporal", "title": "Date",
"scale": {"type": "utc", "domain": [{"year": 2007, "month": 2, "date": 23, "utc": true}, {"year": 2019, "month": 12, "date": 15, "utc": true}], "nice": false},
"axis": {"format": "%Y", "tickCount": {"interval": "year", "step": 2}, "labelPadding": 6, "titlePadding": 12}}
},
"layer": [
{
"data": {"name": "ent"},
"mark": {"type": "line", "interpolate": "step-after", "color": "#c4c4c4", "strokeWidth": 1},
"encoding": {
"y": {"field": "e", "type": "quantitative", "title": "Entropy",
"scale": {"domain": [-0.05, 1.05], "nice": false, "zero": false},
"axis": {"orient": "left", "values": [0, 0.2, 0.4, 0.6, 0.8, 1], "format": "~g", "labelPadding": 4, "titlePadding": 4, "titleColor": "#aaaaaa"}}
}
},
{
"data": {"name": "px"},
"encoding": {
"y": {"field": "p", "type": "quantitative", "title": "Closing Price (DJI) $",
"scale": {"domain": [5300, 29400], "nice": false, "zero": false},
"axis": {"orient": "right", "values": [10000, 15000, 20000, 25000], "format": "~s", "labelPadding": 3, "titlePadding": 1, "titleAngle": 270, "titleBaseline": "top"}}
},
"layer": [
{"mark": {"type": "line", "color": "black", "strokeWidth": 1.1}},
{
"transform": [{"filter": "datum.c !== 'k'"}],
"mark": {"type": "line", "strokeWidth": 1.3},
"encoding": {
"color": {"field": "c", "type": "nominal", "scale": {"domain": ["r", "g"], "range": ["#ff0000", "#1a8c1a"]}, "legend": null},
"detail": {"field": "s", "type": "nominal"}
}
}
]
}
],
"resolve": {"scale": {"y": "independent"}}
}
],
"config": {
"font": "Open Sans",
"view": {"fill": "#E5ECF6", "stroke": null},
"axis": {"labelFont": "Open Sans", "titleFont": "Open Sans", "labelColor": "#444", "titleColor": "#444", "titleFontWeight": "normal", "labelFontSize": 8, "titleFontSize": 9, "gridColor": "#ffffff", "gridWidth": 1, "gridOpacity": 1, "domain": false, "ticks": false}
}
}
